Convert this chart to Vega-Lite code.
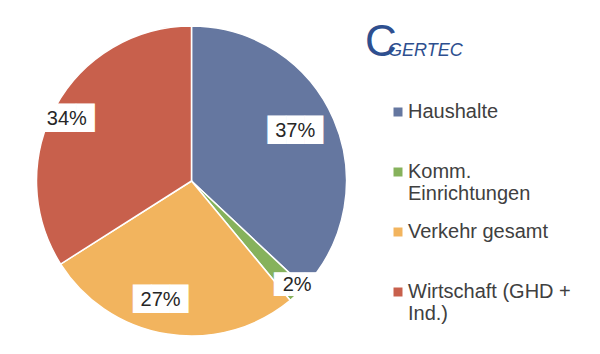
{
  "$schema": "https://vega.github.io/schema/vega-lite/v6.json",
  "width": 383,
  "height": 348,
  "autosize": {"type": "none"},
  "padding": {"left": 0, "top": 7, "right": 217, "bottom": 0},
  "background": "white",
  "title": {
    "text": "C",
    "anchor": "start",
    "frame": "group",
    "dx": 365,
    "dy": 62,
    "font": "Liberation Sans",
    "fontSize": 44,
    "fontWeight": "normal",
    "color": "#2E4F8F"
  },
  "data": {
    "values": [
      {"category": "Haushalte", "share": 0.37},
      {"category": "Komm. Einrichtungen", "share": 0.02},
      {"category": "Verkehr gesamt", "share": 0.27},
      {"category": "Wirtschaft (GHD + Ind.)", "share": 0.34}
    ]
  },
  "encoding": {
    "theta": {"field": "share", "type": "quantitative", "stack": true},
    "order": {"field": "category", "type": "nominal"}
  },
  "layer": [
    {
      "mark": {"type": "arc", "outerRadius": 155, "stroke": "white", "strokeWidth": 1.5},
      "encoding": {
        "color": {
          "field": "category",
          "type": "nominal",
          "scale": {
            "domain": ["Haushalte", "Komm. Einrichtungen", "Verkehr gesamt", "Wirtschaft (GHD + Ind.)"],
            "range": ["#6577A0", "#86B25C", "#F2B45E", "#C8604C"]
          },
          "legend": {
            "orient": "none",
            "legendX": 388,
            "legendY": 35,
            "title": "GERTEC",
            "titleFont": "Liberation Sans",
            "titleFontStyle": "italic",
            "titleFontWeight": "normal",
            "titleFontSize": 18,
            "titleColor": "#2E4F8F",
            "titlePadding": 42,
            "padding": 0,
            "symbolType": "square",
            "symbolSize": 81,
            "symbolStrokeWidth": 0,
            "labelFont": "Liberation Sans",
            "labelFontSize": 20,
            "labelColor": "#404040",
            "labelLimit": 300,
            "labelOffset": 0,
            "rowPadding": 18,
            "labelExpr": "datum.label == 'Komm. Einrichtungen' ? ['Komm.', 'Einrichtungen'] : datum.label == 'Wirtschaft (GHD + Ind.)' ? ['Wirtschaft (GHD +', 'Ind.)'] : [datum.label, '']"
          }
        }
      }
    },
    {
      "mark": {
        "type": "text",
        "font": "DejaVu Sans",
        "fontSize": {"expr": "datum.category == 'Komm. Einrichtungen' ? 20 : 24"},
        "color": "white",
        "baseline": "middle",
        "radius": {"expr": "datum.category == 'Haushalte' ? 113 : datum.category == 'Komm. Einrichtungen' ? 150 : datum.category == 'Verkehr gesamt' ? 121 : 140"},
        "dx": {"expr": "datum.category == 'Komm. Einrichtungen' ? 3 : datum.category == 'Verkehr gesamt' ? -12 : datum.category == 'Wirtschaft (GHD + Ind.)' ? -2 : 0"},
        "dy": {"expr": "datum.category == 'Haushalte' ? -5 : datum.category == 'Komm. Einrichtungen' ? -5 : datum.category == 'Verkehr gesamt' ? -1 : 5"}
      },
      "encoding": {"text": {"value": "███"}}
    },
    {
      "mark": {
        "type": "text",
        "font": "Liberation Sans",
        "fontSize": 20,
        "color": "#262626",
        "baseline": "middle",
        "radius": {"expr": "datum.category == 'Haushalte' ? 113 : datum.category == 'Komm. Einrichtungen' ? 150 : datum.category == 'Verkehr gesamt' ? 121 : 140"},
        "dx": {"expr": "datum.category == 'Komm. Einrichtungen' ? 3 : datum.category == 'Verkehr gesamt' ? -12 : datum.category == 'Wirtschaft (GHD + Ind.)' ? -2 : 0"},
        "dy": {"expr": "datum.category == 'Haushalte' ? -5 : datum.category == 'Komm. Einrichtungen' ? -5 : datum.category == 'Verkehr gesamt' ? -1 : 5"}
      },
      "encoding": {"text": {"field": "share", "type": "quantitative", "format": ".0%"}}
    }
  ]
}
